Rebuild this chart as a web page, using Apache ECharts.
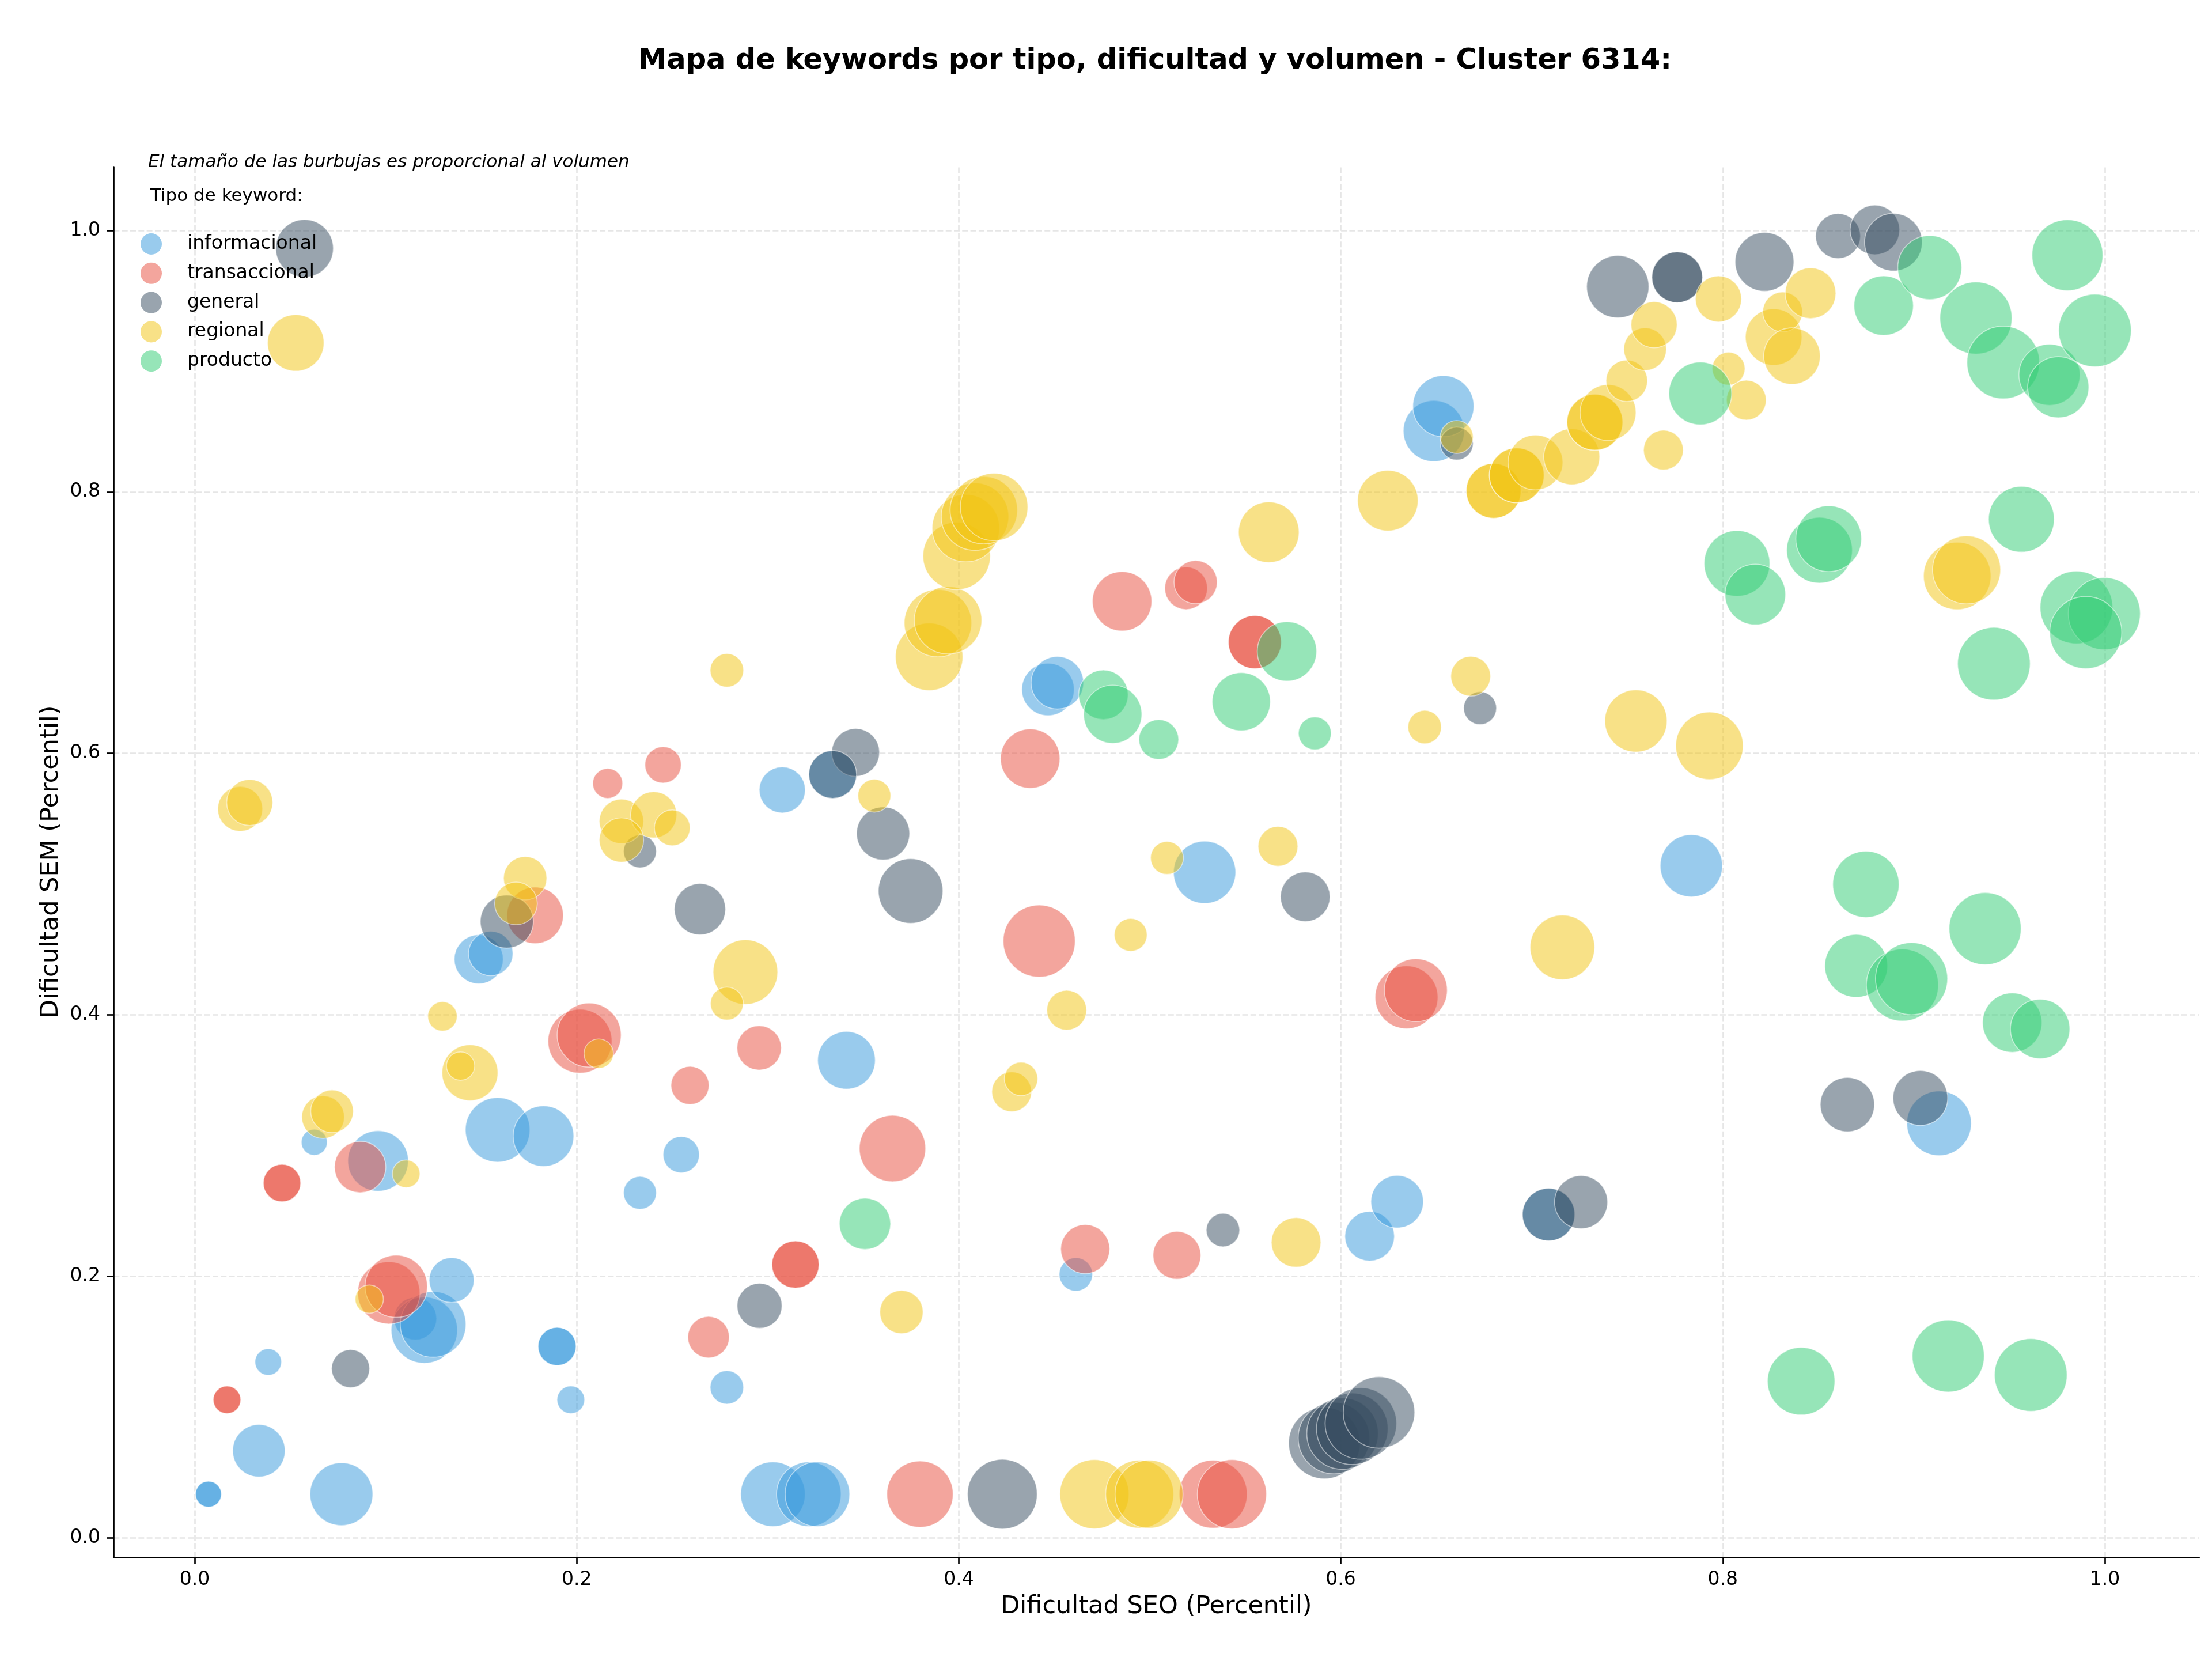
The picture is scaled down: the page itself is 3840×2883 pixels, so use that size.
<!DOCTYPE html>
<html><head><meta charset="utf-8">
<script src="https://cdn.jsdelivr.net/npm/echarts@6/dist/echarts.min.js"></script>
<style>html,body{margin:0;padding:0;background:#fff}#c{width:3840px;height:2883px}</style>
</head><body><div id="c"></div><script>
// [dificultad SEO, dificultad SEM, volumen]
const informacional = [
 [0.0072,0.0333,203],[0.0072,0.0333,203],[0.0768,0.0333,1188],[0.0336,0.0665,828],[0.0385,0.1344,212],
 [0.1969,0.1055,230],[0.1897,0.1463,436],[0.1897,0.1463,436],[0.2786,0.115,336],[0.1155,0.1676,548],
 [0.1202,0.1588,1323],[0.1248,0.1632,1300],[0.1345,0.197,608],[0.0626,0.3025,203],[0.096,0.2882,1103],
 [0.1586,0.312,1254],[0.1826,0.3072,1103],[0.2547,0.293,397],[0.2331,0.2638,325],[0.1487,0.4425,723],
 [0.155,0.4469,593],[0.3076,0.572,640],[0.334,0.5838,689],[0.3412,0.3652,1000],[0.3027,0.0333,1254],
 [0.3215,0.0333,1254],[0.326,0.0333,1254],[0.4467,0.6489,828],[0.4516,0.654,828],[0.5287,0.509,1166],
 [0.4613,0.2014,336],[0.6151,0.2306,740],[0.6295,0.257,828],[0.6487,0.8466,1124],[0.6537,0.8656,1124],
 [0.7835,0.514,1166],[0.9132,0.317,1254],[0.7088,0.2472,828]
];
const transaccional = [
 [0.0169,0.1055,230],[0.0169,0.1055,230],[0.0457,0.2713,423],[0.0457,0.2713,423],[0.0866,0.2835,792],
 [0.1016,0.1873,1166],[0.1055,0.1923,1166],[0.2017,0.3798,1232],[0.2065,0.3845,1232],[0.1782,0.4761,960],
 [0.2162,0.577,270],[0.2452,0.5912,397],[0.2593,0.346,436],[0.2955,0.3747,593],[0.269,0.1534,518],
 [0.3145,0.2089,672],[0.3145,0.2089,672],[0.3653,0.2977,1323],[0.3797,0.0333,1323],[0.4421,0.4564,1563],
 [0.4374,0.596,1061],[0.4855,0.7163,1061],[0.519,0.7263,548],[0.524,0.731,563],[0.555,0.6851,846],
 [0.555,0.6851,846],[0.4662,0.2208,723],[0.5142,0.216,689],[0.5332,0.0333,1392],[0.543,0.0333,1440],
 [0.6344,0.4134,1188],[0.6393,0.4188,1188]
];
const general = [
 [0.0575,0.9863,1000],[0.0816,0.1293,436],[0.1634,0.4713,846],[0.2331,0.525,325],[0.2645,0.4808,792],
 [0.2957,0.1774,608],[0.346,0.6007,689],[0.334,0.5838,689],[0.3604,0.5387,846],[0.3748,0.4947,1254],
 [0.4228,0.0333,1464],[0.5383,0.2353,336],[0.5814,0.4903,740],
 [0.5914,0.0724,1538],[0.5964,0.0762,1538],[0.6009,0.0796,1538],[0.606,0.0833,1538],[0.6105,0.0874,1538],[0.62,0.0958,1538],
 [0.6607,0.837,325],[0.6729,0.6346,325],[0.7088,0.2472,828],[0.7258,0.2567,846],[0.745,0.957,1166],
 [0.7761,0.9642,774],[0.7761,0.9642,774],[0.8218,0.976,1040],[0.8603,0.9957,608],[0.8796,1.0004,740],
 [0.8893,0.991,1000],[0.8652,0.3313,884],[0.9034,0.3364,903]
];
const regional = [
 [0.0529,0.914,960],[0.0238,0.5575,608],[0.0288,0.5624,640],[0.0672,0.3218,548],[0.0719,0.3262,548],
 [0.0914,0.1825,240],[0.1107,0.2784,230],[0.1297,0.3988,260],[0.1441,0.3557,941],[0.1392,0.3608,240],
 [0.173,0.5045,563],[0.1682,0.4852,548],[0.2115,0.3703,260],[0.2234,0.548,593],[0.2403,0.553,640],
 [0.25,0.543,384],[0.2234,0.5337,593],[0.2786,0.6635,336],[0.2883,0.4327,1254],[0.2786,0.4086,325],
 [0.3558,0.5676,325],[0.37,0.1726,563],
 [0.3845,0.6739,1369],[0.3891,0.6996,1369],[0.3944,0.7018,1369],
 [0.3989,0.751,1369],[0.4037,0.7723,1369],[0.4085,0.7811,1369],[0.4131,0.786,1369],[0.4185,0.7885,1369],
 [0.4277,0.3411,476],[0.4326,0.351,336],[0.4565,0.4035,476],[0.49,0.4611,325],[0.509,0.52,325],
 [0.5671,0.5289,476],[0.5623,0.7692,1103],[0.471,0.0333,1440],[0.4947,0.0333,1392],[0.4996,0.0333,1392],
 [0.5766,0.2259,740],[0.6246,0.7933,1103],[0.6439,0.6201,336],[0.668,0.659,476],[0.6607,0.842,325],
 [0.68,0.8008,903],[0.68,0.8008,903],[0.6921,0.8127,903],[0.6921,0.8127,903],[0.7019,0.8225,903],
 [0.7209,0.8269,941],[0.733,0.8533,941],[0.733,0.8533,941],[0.7399,0.8607,941],[0.7497,0.885,518],
 [0.7593,0.9092,548],[0.764,0.9279,640],[0.7689,0.832,476],[0.7977,0.9476,640],[0.803,0.8943,325],
 [0.8123,0.8702,476],[0.8266,0.9185,960],[0.8313,0.9377,476],[0.8362,0.9039,960],[0.8459,0.952,774],
 [0.716,0.4516,1254],[0.7545,0.6248,1166],[0.793,0.6058,1369],[0.9227,0.7357,1369],[0.9276,0.7404,1392]
];
const producto = [
 [0.3509,0.2401,792],[0.4757,0.6448,740],[0.4806,0.6299,1020],[0.5047,0.6106,476],[0.5479,0.6395,1020],
 [0.5718,0.678,1061],[0.5864,0.6153,325],[0.7882,0.8753,1188],[0.8074,0.7453,1300],[0.817,0.7215,1103],
 [0.8506,0.7554,1300],[0.8554,0.7642,1300],[0.8842,0.9425,1061],[0.9083,0.9716,1232],[0.9325,0.933,1563],
 [0.9468,0.899,1588],[0.971,0.8896,1124],[0.9756,0.8801,1124],[0.9804,0.9811,1513],[0.9948,0.9235,1588],
 [0.9563,0.7791,1300],[0.9419,0.6686,1588],[0.9851,0.7116,1588],[0.9997,0.7069,1563],[0.99,0.6924,1563],
 [0.8749,0.4998,1323],[0.8698,0.4374,1188],[0.894,0.4228,1563],[0.8988,0.4276,1563],[0.9373,0.4659,1563],
 [0.9515,0.394,1061],[0.9661,0.3892,1061],[0.841,0.1197,1369],[0.918,0.139,1563],[0.9612,0.1245,1588]
];
const tipos = ['informacional','transaccional','general','regional','producto'];
const colores = ['#3498db','#e74c3c','#34495e','#f1c40f','#2ecc71'];
const xTicks = [0,0.2,0.4,0.6,0.8,1.0];
const yTicks = [0,0.2,0.4,0.6,0.8,1.0];
const titulo = 'Mapa de keywords por tipo, dificultad y volumen - Cluster 6314:';
const nota = 'El tamaño de las burbujas es proporcional al volumen';
const tituloLeyenda = 'Tipo de keyword:';

const FONT = '"DejaVu Sans", sans-serif';
const datos = [informacional, transaccional, general, regional, producto];
const chart = echarts.init(document.getElementById('c'), null, {renderer:'canvas'});
const axisCommon = {
  type:'value', splitNumber:5,
  axisLine:{show:true, onZero:false, lineStyle:{color:'#000', width:2.67}},
  axisTick:{show:true, length:11.7, lineStyle:{color:'#000', width:2.67}},
  splitLine:{show:false},
  nameLocation:'middle',
  nameTextStyle:{fontSize:43, color:'#000', fontFamily:FONT}
};
const gridSeries = {
  type:'scatter', name:'__grid', data:[], z:0, silent:true,
  markLine:{
    silent:true, symbol:['none','none'], animation:false, z:0, zlevel:0,
    label:{show:false}, emphasis:{disabled:true},
    lineStyle:{color:'#e6e6e6', width:2.67, type:[10,4.3]},
    data:xTicks.map(v=>({xAxis:v})).concat(yTicks.map(v=>({yAxis:v})))
  }
};
chart.setOption({
  animation:false,
  backgroundColor:'#fff',
  grid:{left:197.4, right:22.5, top:289.5, bottom:180, containLabel:false, outerBoundsMode:'none'},
  xAxis:Object.assign({}, axisCommon, {
    min:-0.0424, max:1.0493,
    axisTick:Object.assign({}, axisCommon.axisTick, {customValues:xTicks}),
    axisLabel:{customValues:xTicks, formatter:v=>v.toFixed(1), fontSize:33, color:'#000', margin:23.4, fontFamily:FONT},
    name:'Dificultad SEO (Percentil)', nameGap:64
  }),
  yAxis:Object.assign({}, axisCommon, {
    min:-0.015, max:1.0487,
    axisTick:Object.assign({}, axisCommon.axisTick, {customValues:yTicks}),
    axisLabel:{customValues:yTicks, formatter:v=>v.toFixed(1), fontSize:33, color:'#000', margin:23.4, fontFamily:FONT},
    name:'Dificultad SEM (Percentil)', nameGap:85, nameRotate:90
  }),
  legend:{
    orient:'vertical', left:239, top:400, padding:5,
    itemWidth:115, itemHeight:37, itemGap:13.8, icon:'circle', selectedMode:false,
    textStyle:{fontSize:33, color:'#000', fontFamily:FONT},
    data:tipos.map((t,i)=>({name:t, itemStyle:{color:colores[i], opacity:0.5, borderWidth:0}}))
  },
  graphic:[
    {type:'text', x:2005, y:106, z:100, style:{text:titulo, font:'bold 49.5px '+FONT, fill:'#000', align:'center', verticalAlign:'middle', textAlign:'center', textVerticalAlign:'middle'}},
    {type:'text', x:257, y:282, z:100, style:{text:nota, font:'italic 31px '+FONT, fill:'#000', align:'left', verticalAlign:'middle', textAlign:'left', textVerticalAlign:'middle'}},
    {type:'text', x:261, y:341, z:100, style:{text:tituloLeyenda, font:'31px '+FONT, fill:'#000', align:'left', verticalAlign:'middle', textAlign:'left', textVerticalAlign:'middle'}}
  ],
  series:[gridSeries].concat(datos.map((d,i)=>({
    type:'scatter', name:tipos[i], data:d, clip:false, silent:true, z:2,
    symbolSize:v=>Math.sqrt(v[2]*10),
    itemStyle:{color:colores[i], opacity:0.5, borderColor:'#ffffff', borderWidth:1.7},
    emphasis:{disabled:true}
  })))
});
</script></body></html>
